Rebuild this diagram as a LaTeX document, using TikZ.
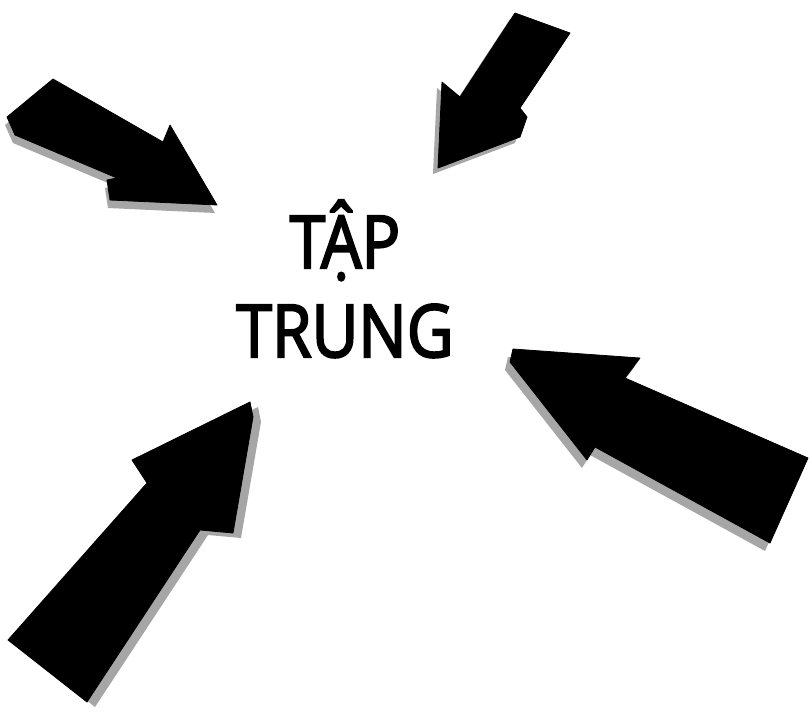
\documentclass[tikz,border=0pt]{standalone}
\usepackage{fontspec}
\setmainfont{Open Sans}
\newfontfamily\focusfont{Open Sans}[FakeBold=3]
\begin{document}
\begin{tikzpicture}[x=1pt,y=-1pt,
  arrowbody/.style={fill=black,draw=black,line join=round,line width=0.8pt},
  arrowshade/.style={fill=black!35,draw=none},
  focus/.style={font=\focusfont\fontsize{73}{89}\selectfont,align=center,inner sep=0pt,text=black,xscale=0.88}]
\useasboundingbox[fill=white] (0,0) rectangle (812,716);
% shadows
\fill[arrowshade,shift={(-2,8)}] (53,79) -- (163,142) -- (170,125) -- (217,205) -- (110,200) -- (107,180) -- (117,178) -- (15,135) -- (7,117) -- cycle;
\fill[arrowshade,shift={(-5,6)}] (515,13) -- (570,33) -- (520,108) -- (527,117) -- (520,137) -- (438,168) -- (442,82) -- (460,97) -- cycle;
\fill[arrowshade,shift={(-5,8)}] (513,349) -- (640,358) -- (625,378) -- (808,458) -- (770,543) -- (595,447) -- (587,460) -- (510,362) -- cycle;
\fill[arrowshade,shift={(8,5)}] (250,402) -- (253,417) -- (233,533) -- (200,530) -- (87,702) -- (8,640) -- (147,483) -- (132,460) -- cycle;
% arrows
\path[arrowbody] (53,79) -- (163,142) -- (170,125) -- (217,205) -- (110,200) -- (107,180) -- (117,178) -- (15,135) -- (7,117) -- cycle;
\path[arrowbody] (515,13) -- (570,33) -- (520,108) -- (527,117) -- (520,137) -- (438,168) -- (442,82) -- (460,97) -- cycle;
\path[arrowbody] (513,349) -- (640,358) -- (625,378) -- (808,458) -- (770,543) -- (595,447) -- (587,460) -- (510,362) -- cycle;
\path[arrowbody] (250,402) -- (253,417) -- (233,533) -- (200,530) -- (87,702) -- (8,640) -- (147,483) -- (132,460) -- cycle;
% text
\node[focus,anchor=base] (tap) at (345,268) {TẬP};
\node[focus,anchor=base] (trung) at (345,357) {TRUNG};
\end{tikzpicture}
\end{document}
